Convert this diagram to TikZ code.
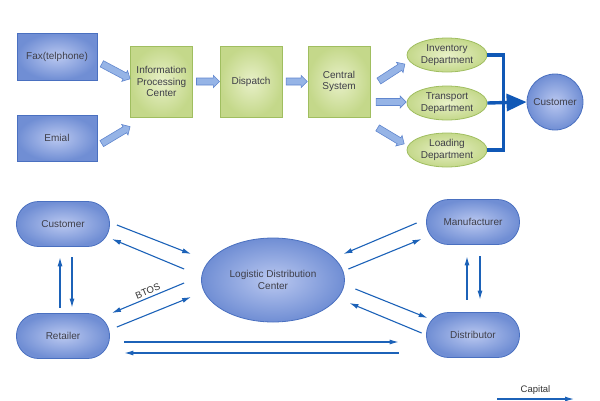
\documentclass[tikz,border=0pt]{standalone}
\usepackage{fontspec}
\setmainfont{Liberation Sans}
\usetikzlibrary{calc,arrows.meta,shapes.geometric,shapes.arrows}
\definecolor{boxblue}{RGB}{112,142,212}
\definecolor{boxbluelt}{RGB}{186,200,240}
\definecolor{bdrblue}{RGB}{74,112,192}
\definecolor{boxgreen}{RGB}{196,216,138}
\definecolor{boxgreenlt}{RGB}{232,240,200}
\definecolor{bdrgreen}{RGB}{160,190,96}
\definecolor{linkblue}{RGB}{28,98,184}
\definecolor{brkblue}{RGB}{16,88,182}
\definecolor{arwfill}{RGB}{150,180,230}
\definecolor{arwdraw}{RGB}{96,134,206}
\definecolor{txtgray}{RGB}{62,62,72}

\begin{document}
\begin{tikzpicture}[x=1pt, y=-1pt,
  every node/.style={font=\fontsize{10}{11.5}\selectfont, text=txtgray, align=center},
  bluebox/.style={rectangle, draw=bdrblue, line width=0.8pt, inner color=boxbluelt, outer color=boxblue},
  greenbox/.style={rectangle, draw=bdrgreen, line width=0.8pt, inner color=boxgreenlt, outer color=boxgreen, minimum width=62pt, minimum height=71pt},
  greenell/.style={ellipse, draw=bdrgreen, line width=0.8pt, inner color=boxgreenlt, outer color=boxgreen, minimum width=80pt, minimum height=34pt, inner sep=0pt},
  pill/.style={rectangle, rounded corners=22pt, draw=bdrblue, line width=0.8pt, inner color=boxbluelt, outer color=boxblue, minimum width=93pt, minimum height=45pt},
  blkarrow/.style={single arrow, draw=arwdraw, fill=arwfill, line width=0.6pt, inner sep=3.2pt, single arrow head extend=2.6pt, minimum width=12pt},
  bracket/.style={draw=brkblue, line width=3.4pt},
  link/.style={draw=linkblue, line width=1.1pt, -{Latex[length=9pt,width=5pt]}}]
\useasboundingbox (0,0) rectangle (600,400);

% order flow
\node[bluebox, minimum width=80pt, minimum height=47pt] (fax) at (57,56.5) {Fax(telphone)};
\node[bluebox, minimum width=80pt, minimum height=46pt] (emial) at (57,138) {Emial};
\node[greenbox] (ipc) at (161.5,81.5) {Information\\Processing\\Center};
\node[greenbox] (disp) at (251,81.5) {Dispatch};
\node[greenbox] (csys) at (339,81.5) {Central\\System};
\node[greenell] (inv) at (447,55) {Inventory\\Department};
\node[greenell] (trans) at (447,103) {Transport\\Department};
\node[greenell] (load) at (447,150) {Loading\\Department};
\node[circle, draw=bdrblue, line width=0.8pt, inner color=boxbluelt, outer color=boxblue, minimum size=56pt, inner sep=0pt] (custc) at (555,102) {Customer};

\node[blkarrow, rotate=-28, minimum height=32pt] at ($(fax.east)+(17,14)$) {};
\node[blkarrow, rotate=31, minimum height=33pt] at ($(emial.east)+(17,-2)$) {};
\node[blkarrow, minimum height=23pt] at ($(ipc.east)!0.5!(disp.west)$) {};
\node[blkarrow, minimum height=21pt] at ($(disp.east)!0.5!(csys.west)$) {};
\node[blkarrow, rotate=33, minimum height=31pt] at ($(csys.east)+(20,-8)$) {};
\node[blkarrow, minimum height=30pt] at ($(csys.east)+(19,20.5)$) {};
\node[blkarrow, rotate=-31, minimum height=31pt] at ($(csys.east)+(19,53.5)$) {};

\coordinate (jn) at ($(trans.east)+(16,0)$);
\draw[bracket] (inv.east) -| (jn) |- (load.east);
\draw[bracket, -{Triangle[length=20pt,width=17pt]}] (trans.east) -- (custc.west);

% distribution network
\node[pill] (cust) at (63,224) {Customer};
\node[pill] (ret) at (63,336) {Retailer};
\node[ellipse, draw=bdrblue, line width=0.8pt, inner color=boxbluelt, outer color=boxblue, minimum width=143pt, minimum height=84pt, inner sep=0pt] (ldc) at (273,280) {Logistic Distribution\\Center};
\node[pill] (man) at (473,222) {Manufacturer};
\node[pill] (dist) at (473,335) {Distributor};

\draw[link] ($(cust.east)+(7,1)$) -- ($(ldc.west)+(-10,-26)$);
\draw[link] ($(ldc.west)+(-17,-11)$) -- ($(cust.east)+(2,15)$);
\draw[link] ($(ldc.west)+(-17,3)$) -- node[sloped, above=-1pt, pos=0.47, font=\fontsize{9.5}{11}\selectfont, text=black!80] {BTOS} ($(ret.east)+(2,-23)$);
\draw[link] ($(ret.east)+(7,-9)$) -- ($(ldc.west)+(-10,17)$);
\draw[link] ($(ret.north)+(-3,-5.5)$) -- ($(cust.south)+(-3,10.5)$);
\draw[link] ($(cust.south)+(9,10.5)$) -- ($(ret.north)+(9,-5.5)$);
\draw[link] ($(ret.east)+(14.5,6)$) -- ($(dist.west)+(-27.5,7)$);
\draw[link] ($(dist.west)+(-27.5,18)$) -- ($(ret.east)+(14.5,17)$);
\draw[link] ($(man.west)+(-9.5,1)$) -- ($(ldc.east)+(-1.5,-26)$);
\draw[link] ($(ldc.east)+(3.5,-11)$) -- ($(man.west)+(-4.5,17)$);
\draw[link] ($(ldc.east)+(10.5,9)$) -- ($(dist.west)+(1.5,-17)$);
\draw[link] ($(dist.west)+(-4.5,-2)$) -- ($(ldc.east)+(4.5,23)$);
\draw[link] ($(dist.north)+(-6,-12.5)$) -- ($(man.south)+(-6,11.5)$);
\draw[link] ($(man.south)+(7,11.5)$) -- ($(dist.north)+(7,-12.5)$);

\coordinate (capA) at (497,399);
\coordinate (capB) at (574,399);
\draw[link] (capA) -- node[above=1pt, font=\fontsize{9.5}{11}\selectfont, text=black!80] {Capital} (capB);
\end{tikzpicture}
\end{document}
